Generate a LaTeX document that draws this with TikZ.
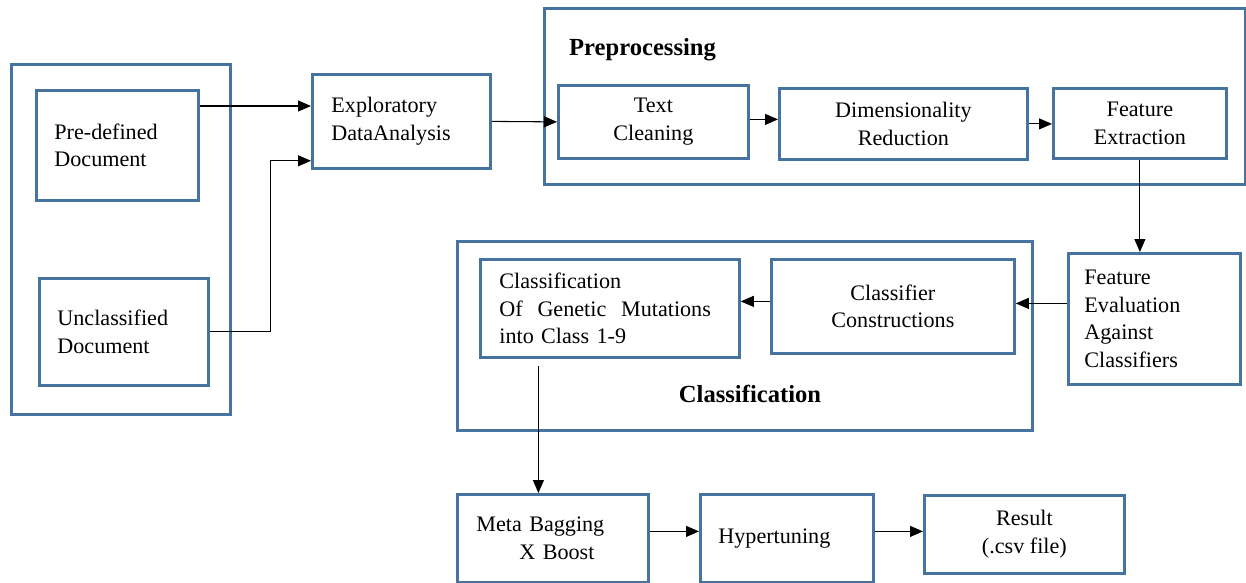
\documentclass[tikz,border=0pt]{standalone}
\usepackage{fontspec}
\setmainfont{Liberation Serif}
\usepackage{tikz}
\usetikzlibrary{arrows.meta}
\definecolor{boxblue}{RGB}{70,115,160}

\begin{document}
\begin{tikzpicture}[
        x=0.02cm, y=-0.02cm,
        box/.style={rectangle,draw=boxblue,line width=1.6pt,anchor=north west,inner ysep=0pt,
            font=\rmfamily\fontsize{12.6}{15.8}\selectfont},
        group/.style={rectangle,draw=boxblue,line width=1.6pt,anchor=north west,inner sep=0pt},
        title/.style={font=\rmfamily\fontsize{14}{16}\selectfont\bfseries},
        arrow/.style={draw=black,line width=0.6pt,-{Triangle[length=2.6mm,width=2.2mm]}},
    ]

    \useasboundingbox (0,0) rectangle (1246,582);

    %% Groups
    \node[group,minimum width=4.38cm,minimum height=7cm] (docs) at (10,63) {};
    \node[group,minimum width=14.02cm,minimum height=3.52cm] (prep) at (543,7) {};
    \node[title,anchor=west] (preptitle) at (563,50) {Preprocessing};
    \node[group,minimum width=11.5cm,minimum height=3.78cm] (clsgroup) at (456,240) {};
    \node[title] (clstitle) at (750,394) {Classification};

    %% Input documents
    \node[box,align=left,text width=2.52cm,inner xsep=0.36cm,minimum height=2.2cm] (pre) at (35,89) {Pre-defined\\Document};
    \node[box,align=left,text width=2.66cm,inner xsep=0.36cm,minimum height=2.14cm] (uncl) at (38,277) {Unclassified\\Document};
    \node[box,align=left,text width=2.8cm,inner xsep=0.38cm,minimum height=1.88cm] (eda) at (311,73) {Exploratory\\DataAnalysis};

    %% Preprocessing steps
    \node[box,align=center,minimum width=3.8cm,minimum height=1.46cm] (clean) at (557,84) {Text\\Cleaning};
    \node[box,align=center,minimum width=4.96cm,minimum height=1.42cm] (dim) at (778,87) {Dimensionality\\Reduction};
    \node[box,align=center,minimum width=3.46cm,minimum height=1.4cm] (fext) at (1052,87) {Feature\\Extraction};

    %% Evaluation and classification
    \node[box,align=left,text width=2.8cm,inner xsep=0.32cm,minimum height=2.62cm] (feval) at (1067,252) {Feature\\Evaluation\\Against\\Classifiers};
    \node[box,align=center,minimum width=4.86cm,minimum height=1.88cm] (ccon) at (770,258) {Classifier\\Constructions};
    \node[box,align=left,text width=4.42cm,inner xsep=0.38cm,minimum height=1.96cm] (cgm) at (479,258) {Classification\\Of~ Genetic~ Mutations\\into Class 1-9};

    %% Final stage
    \node[box,align=left,text width=3.06cm,inner xsep=0.38cm,minimum height=1.76cm] (meta) at (456,493) {Meta Bagging\\\hspace*{0.86cm}X Boost};
    \node[box,align=left,text width=2.74cm,inner xsep=0.36cm,minimum height=1.76cm] (hyp) at (699,493) {Hypertuning};
    \node[box,align=center,minimum width=4cm,minimum height=1.56cm] (res) at (923,494) {Result\\(.csv file)};

    %% Connectors
    \coordinate (p1) at ([yshift=-0.34cm]pre.north east);
    \draw[arrow] (p1) -- (p1 -| eda.west);
    \coordinate (e2) at ([yshift=0.18cm]eda.south west);
    \draw[arrow] (uncl.east) -- ++(1.22cm,0) |- (e2);
    \draw[arrow] (eda.east) -- (clean.west);
    \coordinate (c1) at ([yshift=0.05cm]clean.east);
    \draw[arrow] (c1) -- (c1 -| dim.west);
    \draw[arrow] (dim.east) -- (dim.east -| fext.west);
    \draw[arrow] (fext.south) -- (fext.south |- feval.north);
    \coordinate (f1) at ([yshift=0.06cm]ccon.east);
    \draw[arrow] (f1 -| feval.west) -- (f1);
    \coordinate (k1) at ([yshift=0.1cm]ccon.west);
    \draw[arrow] (k1) -- (k1 -| cgm.east);
    \coordinate (m1) at ([xshift=-0.29cm]meta.north |- cgm.south);
    \draw[arrow] ([yshift=-0.14cm]m1) -- (m1 |- meta.north);
    \coordinate (h1) at ([yshift=0.14cm]meta.east);
    \draw[arrow] (h1) -- (h1 -| hyp.west);
    \coordinate (r1) at ([yshift=0.14cm]hyp.east);
    \draw[arrow] (r1) -- (r1 -| res.west);

\end{tikzpicture}
\end{document}
